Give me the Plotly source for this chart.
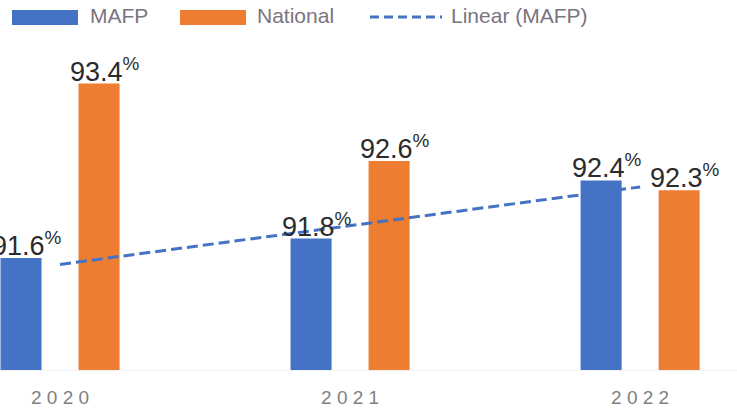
import numpy as np
import plotly.graph_objects as go

BLUE = "#4472C4"
ORANGE = "#ED7D31"
LABEL = "#2b2b2b"
MUTED = "#7a7480"
FONT = "Liberation Sans, Arial, sans-serif"

years = ["2020", "2021", "2022"]
mafp = [91.6, 91.8, 92.4]
national = [93.4, 92.6, 92.3]
tick_text = ["2 0 2 0", "2 0 2 1", "2 0 2 2"]

W, H = 737, 411
M_TOP, M_BOT = 40, 41

# Excel-style linear trendline through the MAFP values
idx = np.arange(1, len(mafp) + 1)
slope, intercept = np.polyfit(idx, mafp, 1)
trend = slope * idx + intercept

fig = go.Figure()
for name, vals, color in [("MAFP", mafp, BLUE), ("National", national, ORANGE)]:
    fig.add_trace(go.Bar(x=years, y=vals, name=name, marker=dict(color=color, line=dict(width=0))))

fig.add_trace(
    go.Scatter(
        x=years,
        y=trend,
        name="Linear (MAFP)",
        mode="lines",
        line=dict(color=BLUE, width=3, dash="11px,5px"),
    )
)


def px(x, y):
    """pixel position -> paper coords"""
    ph = H - M_TOP - M_BOT
    return x / W, (H - M_BOT - y) / ph


annotations = []
# value labels, sitting right on the bar tops (slightly right of centre like Excel)
for vals, shift in [(mafp, -39 + 6), (national, 39 + 6)]:
    for i, v in enumerate(vals):
        annotations.append(dict(x=i, y=v, xref="x", yref="y", text=f"{v:.1f}<sup>%</sup>",
                                showarrow=False, xanchor="center", yanchor="bottom",
                                xshift=shift, yshift=-5,
                                font=dict(family=FONT, size=27, color=LABEL)))

# hand-drawn legend (wide patches like the original)
shapes = []
legend_items = [("MAFP", BLUE, "rect", 12, 78, 88), ("National", ORANGE, "rect", 180, 246, 255),
                ("Linear (MAFP)", BLUE, "line", 370, 442, 449)]
for label, color, kind, x0, x1, tx in legend_items:
    if kind == "rect":
        a, b = px(x0, 10)
        c, d = px(x1, 25)
        shapes.append(dict(type="rect", xref="paper", yref="paper", x0=a, x1=c, y0=d, y1=b,
                           fillcolor=color, line=dict(width=0)))
    else:
        a, b = px(x0, 17)
        c, _ = px(x1, 17)
        shapes.append(dict(type="line", xref="paper", yref="paper", x0=a, x1=c, y0=b, y1=b,
                           line=dict(color=color, width=3, dash="9px,5px")))
    ax, ay = px(tx, 15)
    annotations.append(dict(text=label, xref="paper", yref="paper", x=ax, y=ay, xanchor="left",
                            yanchor="middle", showarrow=False,
                            font=dict(family=FONT, size=21, color=MUTED)))

fig.update_layout(
    width=W,
    height=H,
    margin=dict(l=0, r=0, t=M_TOP, b=M_BOT),
    paper_bgcolor="white",
    plot_bgcolor="white",
    barmode="group",
    bargap=0.462,
    bargroupgap=0.474,
    showlegend=False,
    shapes=shapes,
    annotations=annotations,
)
fig.update_xaxes(
    type="category",
    range=[-0.207, 2.334],
    tickvals=years,
    ticktext=tick_text,
    tickfont=dict(family=FONT, size=19, color="#808080"),
    ticklabelstandoff=10,
    showline=True,
    linecolor="#f2f2f2",
    linewidth=1,
    showgrid=False,
    ticks="",
)
fig.update_yaxes(range=[90.443, 93.85], visible=False, showgrid=False, zeroline=False)

fig.write_html("out.html", config={"displayModeBar": False},
               post_script="document.body.style.margin='0';")
